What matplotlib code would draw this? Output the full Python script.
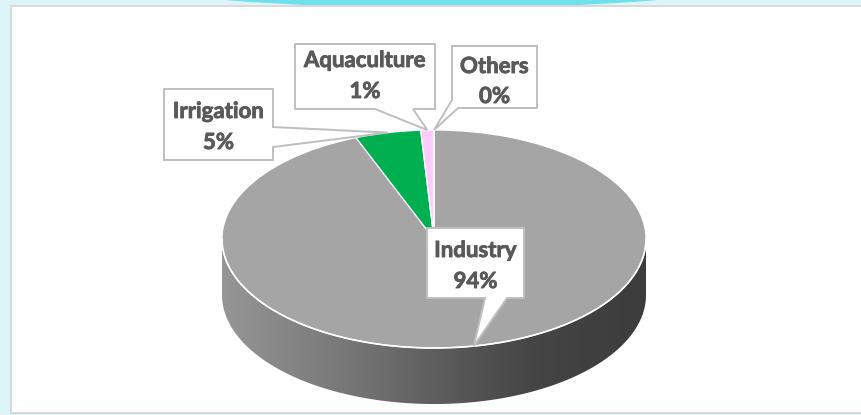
import numpy as np
import matplotlib.pyplot as plt
import matplotlib.patheffects as pe
from matplotlib.patches import Rectangle, Polygon, Ellipse
from matplotlib.colors import LinearSegmentedColormap

sectors = ['Industry', 'Irrigation', 'Aquaculture', 'Others']
shares = [94, 5, 1, 0]
colors = ['#a5a5a5', '#00b050', '#ffccff', '#a5a5a5']

# callout boxes (pixel coords: left, top, right, bottom)
boxes = {
    'Industry': (427, 228, 524, 298),
    'Irrigation': (164, 89, 273, 160),
    'Aquaculture': (295, 44, 435, 109),
    'Others': (452, 46, 537, 108),
}
baselines = {
    'Industry': (257, 288),
    'Irrigation': (118, 149),
    'Aquaculture': (67, 98),
    'Others': (73, 103),
}

W, H = 861, 415
cx, cy = 434, 239      # pixel centre of the top face
rx, ry = 212, 109      # pixel radii of the top face
depth = 56 / ry        # disc thickness in data units


def to_data(px, py):
    return (px - cx) / rx, (cy - py) / ry


fig = plt.figure(figsize=(W / 100, H / 100), dpi=100)
fig.patch.set_facecolor('#ddf5f9')

# slide background behind the chart
fig.patches.append(Ellipse((442 / W, 1 + 18 / H), 600 / W, 50 / H,
                           transform=fig.transFigure, color='#6ee1ec', zorder=-3))
fig.patches.append(Rectangle((10 / W, (H - 414) / H), (W - 10) / W, (414 - 5) / H,
                             transform=fig.transFigure, facecolor='#d9d9d9',
                             edgecolor='none', zorder=-2))
fig.patches.append(Rectangle((12 / W, (H - 412) / H), (W - 12) / W, (412 - 7) / H,
                             transform=fig.transFigure, facecolor='white',
                             edgecolor='none', zorder=-1))

ax = fig.add_axes([0, 0, 1, 1])
ax.patch.set_alpha(0)
ax.axis('off')

wedges, _ = ax.pie(shares, colors=colors, startangle=90, counterclock=False,
                   radius=1, center=(0, 0), frame=False,
                   wedgeprops=dict(edgecolor='white', linewidth=0.9))
for w in wedges:
    w.set_zorder(3)

# side wall of the disc: front half only, shaded left to right
shade = LinearSegmentedColormap.from_list(
    'side', [(0, '#969696'), (0.3, '#767676'), (0.6, '#525252'),
             (0.75, '#444444'), (1, '#3c3c3c')])
t = np.linspace(np.pi, 2 * np.pi, 300)
xs, ys = np.cos(t), np.sin(t)
side = Polygon(np.column_stack([np.r_[xs, xs[::-1]],
                                np.r_[ys, ys[::-1] - depth]]),
               closed=True, facecolor='none', edgecolor='none')
ax.add_patch(side)
grad = np.linspace(0, 1, 256).reshape(1, -1)
img = ax.imshow(grad, cmap=shade, extent=(-1, 1, -1 - depth, 0),
                aspect='auto', zorder=2)
img.set_clip_path(side)
ax.plot(xs, ys, color='white', lw=1.2, zorder=4)

ax.set_aspect('auto')
ax.set_xlim(-cx / rx, (W - cx) / rx)
ax.set_ylim((cy - H) / ry, cy / ry)

bold = [pe.Stroke(linewidth=0.6, foreground='#595959'), pe.Normal()]

# callouts pointing at the rim at each slice's mid angle
for w, name, val in zip(wedges, sectors, shares):
    mid = np.deg2rad((w.theta1 + w.theta2) / 2)
    tip = (np.cos(mid), np.sin(mid))
    l, tp, r, b = boxes[name]
    if name == 'Industry':
        pts = [(l, tp), (r, tp), (r, b), (507, b), None, (485, b), (l, b)]
    elif name == 'Irrigation':
        pts = [(l, tp), (r, tp), (r, 127), None, (r, 147), (r, b), (l, b)]
    elif name == 'Aquaculture':
        pts = [(l, tp), (r, tp), (r, b), (413, b), None, (375, b), (l, b)]
    else:
        pts = [(l, tp), (r, tp), (r, b), (458, b), None, (l, 100)]
    verts = [tip if p is None else to_data(*p) for p in pts]
    ax.add_patch(Polygon(verts, closed=True, facecolor='white',
                         edgecolor='#bfbfbf', lw=1.4, zorder=5))
    xc = (l + r) / 2
    for line, by in zip([name, f'{val}%'], baselines[name]):
        ax.text(*to_data(xc, by), line, ha='center', va='baseline',
                fontsize=16, fontweight='bold', family='Lato',
                color='#595959', zorder=6, path_effects=bold)

fig.savefig('out.png', dpi=100)
